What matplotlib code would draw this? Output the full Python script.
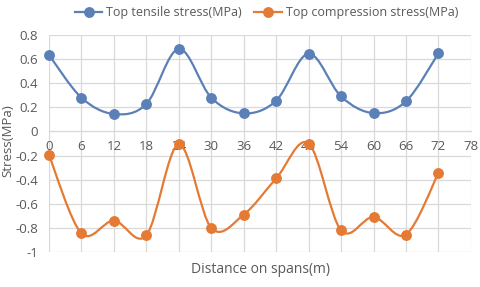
import numpy as np
import matplotlib
matplotlib.use("Agg")
import matplotlib.pyplot as plt
from matplotlib.path import Path
from matplotlib.patches import PathPatch
from matplotlib.lines import Line2D

distance = [0, 6, 12, 18, 24, 30, 36, 42, 48, 54, 60, 66, 72]
tensile = [0.635, 0.28, 0.145, 0.228, 0.685, 0.28, 0.15, 0.255, 0.645, 0.29, 0.152, 0.25, 0.648]
compression = [-0.195, -0.845, -0.74, -0.862, -0.108, -0.80, -0.69, -0.39, -0.10, -0.82, -0.71, -0.855, -0.345]
x_ticks = [0, 6, 12, 18, 24, 30, 36, 42, 48, 54, 60, 66, 72, 78]
y_ticks = [0.8, 0.6, 0.4, 0.2, 0, -0.2, -0.4, -0.6, -0.8, -1]
y_tick_labels = ["0.8", "0.6", "0.4", "0.2", "0", "-0.2", "-0.4", "-0.6", "-0.8", "-1"]
series_names = ["Top tensile stress(MPa)", "Top compression stress(MPa)"]

BLUE = "#5B80B8"
ORANGE = "#E57A34"
TXT = "#595959"
GRID = "#D9D9D9"

plt.rcParams['font.family'] = ['Open Sans', 'DejaVu Sans']

fig = plt.figure(figsize=(4.8, 2.87), dpi=100)
ax = fig.add_axes([0.102, 0.122, 0.879, 0.756])


def smooth_path(xs, ys):
    pts = np.column_stack([xs, ys]).astype(float)
    n = len(pts)
    verts = [pts[0]]
    codes = [Path.MOVETO]
    for i in range(n - 1):
        p0 = pts[i - 1] if i > 0 else pts[i]
        p1 = pts[i]
        p2 = pts[i + 1]
        p3 = pts[i + 2] if i + 2 < n else pts[i + 1]
        c1 = p1 + (p2 - p0) / 6.0
        c2 = p2 - (p3 - p1) / 6.0
        verts += [c1, c2, p2]
        codes += [Path.CURVE4] * 3
    return Path(verts, codes)


for ys, col in [(tensile, BLUE), (compression, ORANGE)]:
    patch = PathPatch(smooth_path(distance, ys), facecolor='none', edgecolor=col,
                      lw=1.6, zorder=3)
    ax.add_patch(patch)
    ax.plot(distance, ys, linestyle='none', marker='o', ms=6.8, color=col, zorder=4,
            clip_on=False)

ax.set_xlim(0, 78)
ax.set_ylim(-1, 0.8)
ax.set_xticks(x_ticks)
ax.set_yticks(y_ticks)
ax.set_yticklabels(y_tick_labels)
ax.grid(True, color=GRID, lw=0.9, zorder=0)
ax.set_axisbelow(True)
for s in ['top', 'right', 'left']:
    ax.spines[s].set_visible(False)
ax.spines['bottom'].set_position(('data', 0))
ax.spines['bottom'].set_color(GRID)
ax.tick_params(axis='both', length=0, labelsize=9.5, labelcolor=TXT)
ax.tick_params(axis='x', pad=6)
ax.tick_params(axis='y', pad=8)

fig.text(0.017, 0.51, "Stress(MPa)", rotation=90, ha='center', va='center',
         fontsize=9.5, color=TXT)
fig.text(0.543, 0.06, "Distance on spans(m)", ha='center', va='center',
         fontsize=10, color=TXT)

handles = [Line2D([], [], color=BLUE, lw=1.6, marker='o', ms=6.8),
           Line2D([], [], color=ORANGE, lw=1.6, marker='o', ms=6.8)]
leg = fig.legend(handles, series_names, loc='center', bbox_to_anchor=(0.555, 0.955),
                 ncol=2, frameon=False, fontsize=9, handlelength=2.2,
                 columnspacing=1.0, handletextpad=0.3)
for t in leg.get_texts():
    t.set_color(TXT)

fig.savefig("out.png", dpi=100)
